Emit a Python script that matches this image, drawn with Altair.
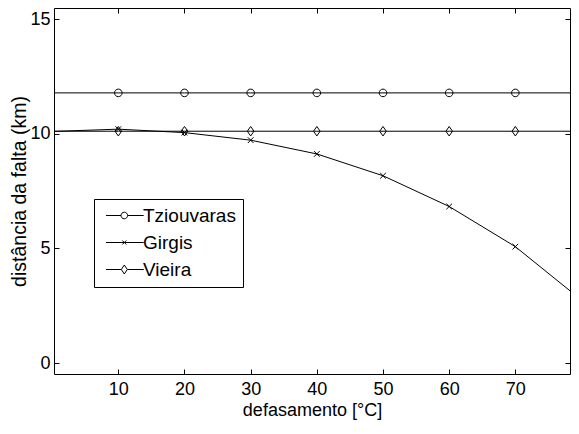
import altair as alt
import pandas as pd

series = ["Tziouvaras", "Girgis", "Vieira"]
defasamento = [0, 10, 20, 30, 40, 50, 60, 70, 80]
tziouvaras = [11.78, 11.78, 11.78, 11.78, 11.78, 11.78, 11.78, 11.78, 11.78]
girgis = [10.10, 10.20, 10.05, 9.72, 9.12, 8.17, 6.83, 5.08, 2.75]
vieira = [10.11, 10.11, 10.11, 10.11, 10.11, 10.11, 10.11, 10.11, 10.11]
x_ticks = [10, 20, 30, 40, 50, 60, 70]
y_ticks = [0, 5, 10, 15]

rows = []
for name, vals in zip(series, [tziouvaras, girgis, vieira]):
    for xv, yv in zip(defasamento, vals):
        rows.append({"x": xv, "y": yv, "series": name})
df = pd.DataFrame(rows)

FONT = "Liberation Sans"
xs = alt.Scale(domain=[0.28, 78.26], nice=False, zero=False)
ys = alt.Scale(domain=[-0.47, 15.48], nice=False, zero=False)

bottom_axis = alt.Axis(orient="bottom", values=x_ticks, offset=-5, tickSize=5, domain=False,
                       grid=False, labelPadding=6, title="defasamento [°C]", titlePadding=3,
                       titleFontSize=18)
left_axis = alt.Axis(orient="left", values=y_ticks, offset=-5, tickSize=5, domain=False,
                     grid=False, labelPadding=4, title="distância da falta (km)", titlePadding=0,
                     titleFontSize=19.5)
top_axis = alt.Axis(orient="top", values=x_ticks, offset=-5, tickSize=5, domain=False,
                    grid=False, labels=False, title=None)
right_axis = alt.Axis(orient="right", values=y_ticks, offset=-5, tickSize=5, domain=False,
                      grid=False, labels=False, title=None)

circle_p = "M0.8,0A0.8,0.8 0 1,1 -0.8,0A0.8,0.8 0 1,1 0.8,0Z"
cross_p = "M-0.6,-0.6L0.6,0.6M-0.6,0.6L0.6,-0.6"
diamond_p = "M0,-1L0.7,0L0,1L-0.7,0Z"

leg_circle = "M-1.5,0L3.5,0M5.7,0L11.07,0M5.7,0A1.1,1.1 0 1,1 3.5,0A1.1,1.1 0 1,1 5.7,0Z"
leg_cross = "M-1.5,0L11.07,0M3.93,-0.67L5.27,0.67M3.93,0.67L5.27,-0.67"
leg_diamond = "M-1.5,0L3.6,0M5.6,0L11.07,0M4.6,-1.5L5.6,0L4.6,1.5L3.6,0Z"

lines = alt.Chart(df).mark_line(color="black", strokeWidth=1, clip=True).encode(
    x=alt.X("x:Q", scale=xs, axis=bottom_axis),
    y=alt.Y("y:Q", scale=ys, axis=left_axis),
    detail="series:N",
)

points = alt.Chart(df).transform_filter("datum.x >= 10 && datum.x <= 70").mark_point(
    filled=False, color="black", size=90, strokeWidth=1, opacity=1
).encode(
    x=alt.X("x:Q", scale=xs, axis=top_axis),
    y=alt.Y("y:Q", scale=ys, axis=right_axis),
    shape=alt.Shape("series:N", scale=alt.Scale(domain=series, range=[circle_p, cross_p, diamond_p]),
                    legend=None),
)

legend_layer = alt.Chart(df).transform_filter("false").mark_point(
    filled=False, color="black", size=36, strokeWidth=1, opacity=1
).encode(
    shape=alt.Shape("series:N", scale=alt.Scale(domain=series, range=[leg_circle, leg_cross, leg_diamond]),
                    legend=alt.Legend(orient="none", legendX=40, legendY=191, title=None, padding=7,
                                      strokeColor="black", fillColor="white", labelFont=FONT,
                                      labelFontSize=19, labelColor="black", labelOffset=23,
                                      rowPadding=7, symbolSize=36, symbolStrokeColor="black",
                                      symbolStrokeWidth=1, symbolFillColor="transparent")),
)

chart = alt.layer(lines, points, legend_layer).resolve_scale(
    shape="independent"
).resolve_axis(
    x="independent", y="independent"
).properties(
    width=516, height=366, autosize="none",
    padding={"left": 46, "top": 0, "right": 1, "bottom": 60},
).configure_view(
    stroke="black", strokeWidth=1
).configure_axis(
    labelFont=FONT, labelFontSize=18, labelColor="black", tickColor="black",
    titleFont=FONT, titleFontWeight="normal", titleColor="black",
)

chart.save("out.html", embed_options={"renderer": "svg", "actions": False})
